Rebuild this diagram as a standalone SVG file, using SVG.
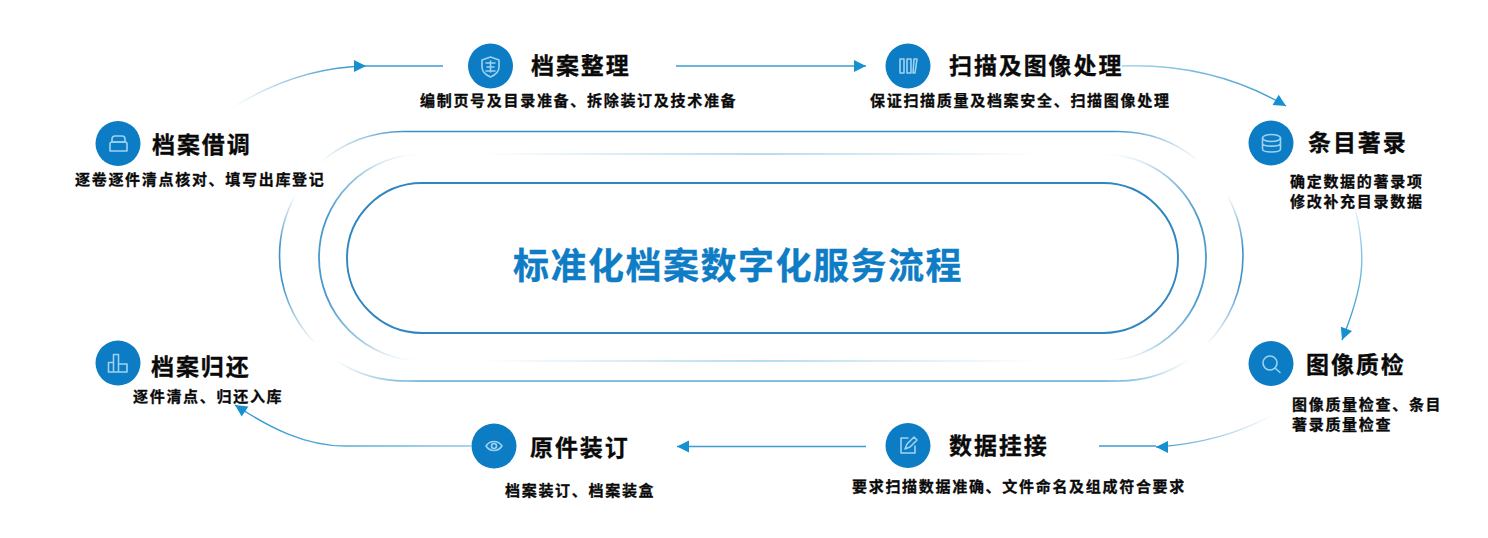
<svg xmlns="http://www.w3.org/2000/svg" width="1488" height="538" viewBox="0 0 1488 538">
<style>
text{font-family:"Noto Sans CJK SC","Noto Sans",sans-serif;font-weight:700;fill:#0a0a0a;stroke:#0a0a0a;stroke-width:.3px}
.t{font-size:23px;letter-spacing:1.9px}
.s{font-size:15px;letter-spacing:1.7px}
.main{font-size:36px;letter-spacing:1.5px;fill:#0f7cc6;stroke:#0f7cc6}
.c{fill:#0c7cc4}
.i{fill:none;stroke:#9fd2f1;stroke-width:1.6;stroke-linecap:round;stroke-linejoin:round}
.r{fill:none}
.k{fill:none;stroke-width:1.4}
</style>
<defs>
<linearGradient id="gh1" gradientUnits="userSpaceOnUse" x1="320" y1="0" x2="1200" y2="0"><stop offset="0" stop-color="#3a8ec6" stop-opacity="0"/><stop offset=".1" stop-color="#3a8ec6"/><stop offset=".9" stop-color="#3a8ec6"/><stop offset="1" stop-color="#3a8ec6" stop-opacity="0"/></linearGradient>
<linearGradient id="gh2" gradientUnits="userSpaceOnUse" x1="335" y1="0" x2="1190" y2="0"><stop offset="0" stop-color="#5aa9d6" stop-opacity="0"/><stop offset=".1" stop-color="#5aa9d6"/><stop offset=".9" stop-color="#5aa9d6"/><stop offset="1" stop-color="#5aa9d6" stop-opacity="0"/></linearGradient>
<linearGradient id="gm" gradientUnits="userSpaceOnUse" x1="480" y1="0" x2="1040" y2="0"><stop offset="0" stop-color="#7fbfe3" stop-opacity="0"/><stop offset=".5" stop-color="#7fbfe3" stop-opacity=".75"/><stop offset="1" stop-color="#7fbfe3" stop-opacity="0"/></linearGradient>
<linearGradient id="gv" gradientUnits="userSpaceOnUse" x1="0" y1="154" x2="0" y2="361"><stop offset="0" stop-color="#4a9acd" stop-opacity="0"/><stop offset=".1" stop-color="#4a9acd" stop-opacity=".55"/><stop offset=".3" stop-color="#4a9acd"/><stop offset=".7" stop-color="#4a9acd"/><stop offset=".9" stop-color="#4a9acd" stop-opacity=".55"/><stop offset="1" stop-color="#4a9acd" stop-opacity="0"/></linearGradient>
<linearGradient id="go" gradientUnits="userSpaceOnUse" x1="0" y1="195" x2="0" y2="345"><stop offset="0" stop-color="#3f93c9" stop-opacity="0"/><stop offset=".35" stop-color="#3f93c9"/><stop offset=".6" stop-color="#3f93c9"/><stop offset="1" stop-color="#3f93c9" stop-opacity="0"/></linearGradient>
<linearGradient id="c1" gradientUnits="userSpaceOnUse" x1="232" y1="108" x2="345" y2="68"><stop offset="0" stop-color="#4a9fd2" stop-opacity="0"/><stop offset="1" stop-color="#3f9bd0"/></linearGradient>
<linearGradient id="c3" gradientUnits="userSpaceOnUse" x1="1122" y1="66" x2="1285" y2="105"><stop offset="0" stop-color="#6db6de" stop-opacity=".6"/><stop offset="1" stop-color="#2f95cf"/></linearGradient>
<linearGradient id="c4" gradientUnits="userSpaceOnUse" x1="0" y1="205" x2="0" y2="340"><stop offset="0" stop-color="#3f9bd0" stop-opacity="0"/><stop offset=".4" stop-color="#7fc0e3"/><stop offset="1" stop-color="#2f95cf"/></linearGradient>
<linearGradient id="c5" gradientUnits="userSpaceOnUse" x1="1272" y1="415" x2="1160" y2="447"><stop offset="0" stop-color="#3f9bd0" stop-opacity="0"/><stop offset="1" stop-color="#3f9bd0"/></linearGradient>
<linearGradient id="c7" gradientUnits="userSpaceOnUse" x1="470" y1="0" x2="235" y2="0"><stop offset="0" stop-color="#8cc7e6"/><stop offset="1" stop-color="#2f95cf"/></linearGradient>
<marker id="a" markerUnits="userSpaceOnUse" markerWidth="14" markerHeight="14" refX="13" refY="7" orient="auto"><path d="M1 1L13 7L1 13Z" fill="#1690cf"/></marker>
</defs>
<rect width="1488" height="538" fill="#fff"/>
<g id="ring">
<path class="r" stroke="url(#gh1)" stroke-width="1.6" d="M320 163A125 125 0 0 1 404.5 131.5H1118A125 125 0 0 1 1196 159"/>
<path class="r" stroke="url(#go)" stroke-width="1.6" d="M295.500 195A125 125 0 0 0 279.500 256A125 125 0 0 0 313.800 342"/>
<path class="r" stroke="url(#go)" stroke-width="1.6" d="M1227 195A125 125 0 0 1 1243 256A125 125 0 0 1 1205.800 345"/>
<path class="r" stroke="url(#gh2)" stroke-width="1.6" d="M337 361A125 125 0 0 0 404.5 381H1118A125 125 0 0 0 1188 360"/>
<path class="r" stroke="url(#gm)" stroke-width="1.4" d="M480 154H1040M480 361H1040"/>
<path class="r" stroke="url(#gv)" stroke-width="1.8" d="M422.500 154A103.500 103.500 0 0 0 422.500 361"/>
<path class="r" stroke="url(#gv)" stroke-width="1.8" d="M1102.500 154A103.500 103.500 0 0 1 1102.500 361"/>
<rect x="347" y="183" width="831" height="150" rx="75" fill="#fff" stroke="#2f86c0" stroke-width="1.9"/>
<text class="main" x="513" y="279">标准化档案数字化服务流程</text>
</g>
<g id="connectors">
<path class="k" stroke="url(#c1)" d="M232 108C270 84 315 67 366 66"/>
<path class="k" stroke="#3f9bd0" d="M366 66H443"/>
<path d="M354 60L366 66L354 72Z" fill="#1690cf"/>
<path class="k" stroke="#3f9bd0" marker-end="url(#a)" d="M676 66H866"/>
<path class="k" stroke="url(#c3)" marker-end="url(#a)" d="M1122 66C1180 64 1235 76 1286 106"/>
<path class="k" stroke="url(#c4)" marker-end="url(#a)" d="M1355 208C1368 260 1362 290 1342 340"/>
<path class="k" stroke="url(#c5)" d="M1272 415C1240 433 1200 444 1156 447"/>
<path class="k" stroke="#3f9bd0" d="M1099 446H1156"/>
<path d="M1156 447L1168 441V453Z" fill="#1690cf"/>
<path class="k" stroke="#3f9bd0" marker-end="url(#a)" d="M866 446.500H677"/>
<path class="k" stroke="url(#c7)" marker-end="url(#a)" d="M471 446H345C305 446 270 428 235 405"/>
</g>
<g id="n1"><circle class="c" cx="490.500" cy="66" r="22.500"/><path class="i" d="M490.500 57L499 60V67C499 72 495 75 490.500 77C486 75 482 72 482 67V60Z"/><path class="i" d="M486 63H495M487 67H494M486 71H495M490.500 61V72" stroke-width="1.200"/><text class="t" x="531" y="74">档案整理</text><text class="s" x="420" y="105.500">编制页号及目录准备、拆除装订及技术准备</text></g>
<g id="n2"><circle class="c" cx="908" cy="66" r="22.500"/><path class="i" d="M900 59H904V73H900ZM907 59H911V73H907ZM914 59H917L915 73H913Z"/><text class="t" x="949" y="74">扫描及图像处理</text><text class="s" x="870" y="105.500">保证扫描质量及档案安全、扫描图像处理</text></g>
<g id="n3"><circle class="c" cx="1271" cy="143" r="22.500"/><ellipse class="i" cx="1271.500" cy="138" rx="9" ry="3.500"/><path class="i" d="M1262.500 138V149C1262.500 153 1280.500 153 1280.500 149V138M1262.500 143.500C1262.500 147 1280.500 147 1280.500 143.500"/><text class="t" x="1308" y="151">条目著录</text><text class="s" x="1290" y="187">确定数据的著录项</text><text class="s" x="1290" y="207">修改补充目录数据</text></g>
<g id="n4"><circle class="c" cx="1271" cy="363.500" r="22.500"/><circle class="i" cx="1270" cy="363" r="7"/><path class="i" d="M1275 368L1280 372.500"/><text class="t" x="1306" y="373">图像质检</text><text class="s" x="1292" y="410">图像质量检查、条目</text><text class="s" x="1292" y="430">著录质量检查</text></g>
<g id="n5"><circle class="c" cx="908" cy="445.500" r="22.500"/><path class="i" d="M908 438H901V453H915V446"/><path class="i" d="M905 449L907 444L914 437L917 440L910 447Z" stroke-width="1.400"/><text class="t" x="949" y="454">数据挂接</text><text class="s" x="852" y="491.500">要求扫描数据准确、文件命名及组成符合要求</text></g>
<g id="n6"><circle class="c" cx="494" cy="446" r="22.500"/><path class="i" d="M486 446C490 440 498 440 502 446C498 452 490 452 486 446Z"/><circle class="i" cx="494" cy="446" r="2.500"/><text class="t" x="530" y="456">原件装订</text><text class="s" x="505" y="496">档案装订、档案装盒</text></g>
<g id="n7"><circle class="c" cx="118" cy="363" r="22.500"/><path class="i" d="M108.500 362.500H113.500V372H108.500ZM113.500 354.500H118.500V372H113.500ZM118.500 364H127V372H118.500Z"/><text class="t" x="151" y="375">档案归还</text><text class="s" x="133" y="401.500">逐件清点、归还入库</text></g>
<g id="n8"><circle class="c" cx="118" cy="143.500" r="22.500"/><path class="i" d="M112 142V139C112 137 113 136 115 136H122C124 136 125 137 125 139V142M113 142H124"/><path class="i" d="M110 144C110 143 111 142 112 142H125C126 142 127 143 127 144V151H110Z"/><text class="t" x="152" y="153">档案借调</text><text class="s" x="75" y="184.500">逐卷逐件清点核对、填写出库登记</text></g>
</svg>
